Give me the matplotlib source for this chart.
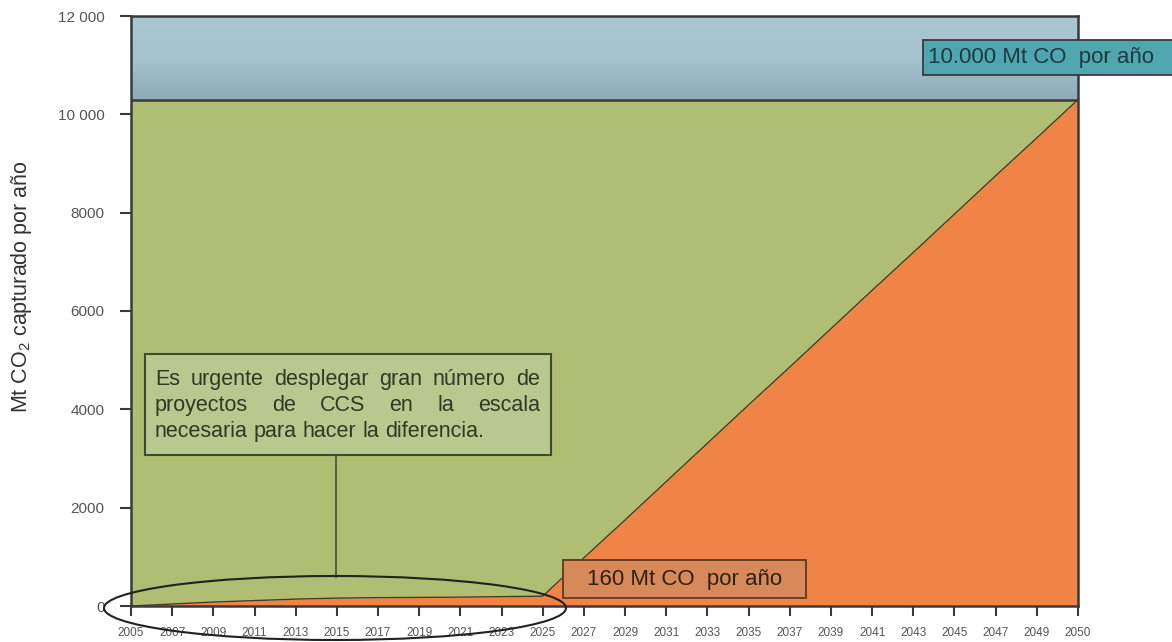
import matplotlib
matplotlib.use("Agg")
import matplotlib.pyplot as plt
import numpy as np
from matplotlib.patches import Rectangle, Ellipse
from matplotlib.colors import LinearSegmentedColormap

# ---- data ----
years = ["2005", "2007", "2009", "2011", "2013", "2015", "2017", "2019", "2021",
         "2023", "2025", "2027", "2029", "2031", "2033", "2035", "2037", "2039",
         "2041", "2043", "2045", "2047", "2049", "2050"]
captured = [0, 40, 80, 110, 140, 160, 170, 175, 180, 190, 200,
            980, 1750, 2530, 3310, 4090, 4860, 5640, 6420, 7190, 7970, 8750, 9520,
            10300]
target = 10300
y_max = 12000
y_ticks = [0, 2000, 4000, 6000, 8000, 10000, 12000]
y_ticklabels = ["0", "2000", "4000", "6000", "8000", "10 000", "12 000"]
label_target = "10.000 Mt CO  por año"
label_current = "160 Mt CO  por año"
note_lines = ["Es urgente desplegar gran número de",
              "proyectos de CCS en la escala",
              "necesaria para hacer la diferencia."]
ylabel = "Mt CO$_2$ capturado por año"

plt.rcParams['font.family'] = ['Liberation Sans', 'DejaVu Sans']
plt.rcParams['mathtext.fontset'] = 'custom'
plt.rcParams['mathtext.rm'] = 'Liberation Sans'

W, H = 1172, 642
fig = plt.figure(figsize=(W / 100, H / 100), dpi=100)
L, R, B, T = 131, 1078, 606, 16
ax = fig.add_axes([L / W, 1 - B / H, (R - L) / W, (B - T) / H])

x = np.arange(len(years))
ax.set_xlim(0, len(years) - 1)
ax.set_ylim(0, y_max)

c_orange = "#f08446"
c_green = "#afbe73"
c_dark = "#3a3a3a"

ax.fill_between(x, 0, captured, color=c_orange, lw=0, zorder=1)
ax.fill_between(x, captured, target, color=c_green, lw=0, zorder=1)
cmap = LinearSegmentedColormap.from_list("b", ["#8fa9b6", "#a6c3cf", "#a9c6d2"])
grad = np.linspace(0, 1, 100).reshape(-1, 1)
ax.imshow(grad, cmap=cmap, extent=[0, len(years) - 1, target, y_max],
          aspect="auto", origin="lower", zorder=1)
ax.plot(x, captured, color="#4a3a20", lw=1.0, zorder=2)
ax.axhline(target, color=c_dark, lw=1.8, zorder=3)

for s in ["left", "bottom", "top", "right"]:
    ax.spines[s].set_color(c_dark)
    ax.spines[s].set_linewidth(1.8)
    ax.spines[s].set_zorder(4)

ax.set_yticks(y_ticks)
ax.set_yticklabels(y_ticklabels)
ax.set_xticks(x)
ax.set_xticklabels(years)
ax.tick_params(axis="y", length=8, width=1.5, color=c_dark, pad=11,
               labelsize=11, labelcolor="#555555")
ax.tick_params(axis="x", length=7, width=1.5, color=c_dark, pad=8,
               labelsize=8.5, labelcolor="#555555")
ax.set_ylabel(ylabel, fontsize=15.5, color="#333333")
ax.yaxis.set_label_coords(-(131 - 34) / (R - L), 0.542)

px = (len(years) - 1) / (R - L)   # data units per pixel in x
py = y_max / (B - T)              # data units per pixel in y

def dx(p):
    return (p - L) * px

def dy(p):
    return (B - p) * py

# teal target label box
ax.add_patch(Rectangle((dx(923), dy(75)), (1185 - 923) * px, (75 - 40) * py,
                       facecolor="#4fa6ae", edgecolor=c_dark, lw=1.3,
                       clip_on=False, zorder=6))
ax.text(dx(928), dy(57.5), label_target, fontsize=16, color="#1f3b3f",
        va="center", ha="left", clip_on=False, zorder=7)

# orange current label box
ax.add_patch(Rectangle((dx(563), dy(598)), (806 - 563) * px, (598 - 560) * py,
                       facecolor="#d8895c", edgecolor="#5a3a25", lw=1.3,
                       clip_on=False, zorder=6))
ax.text(dx(587), dy(579), label_current, fontsize=16, color="#2e2010",
        va="center", ha="left", zorder=7)

# note box
ax.add_patch(Rectangle((dx(145), dy(455)), (551 - 145) * px, (455 - 354) * py,
                       facecolor="#b8c990", edgecolor="#3d4a30", lw=1.5, zorder=6))
ax.plot([dx(336), dx(336)], [dy(455), dy(577)], color="#4a4a3a", lw=1.2, zorder=6)

# ellipse
ax.add_patch(Ellipse((dx(335), dy(608)), 462 * px, 64 * py, fill=False,
                     edgecolor="#222222", lw=1.5, clip_on=False, zorder=8))

# justified note text
fig.canvas.draw()
renderer = fig.canvas.get_renderer()
left_px, right_px = 155, 540
baselines = [385, 411, 437]
fs = 15.5
for i, line in enumerate(note_lines):
    words = line.split(" ")
    ts = [ax.text(0, 0, w, fontsize=fs, color="#2e3a25", va="baseline",
                  ha="left", zorder=7) for w in words]
    widths = [t.get_window_extent(renderer).width for t in ts]
    if i < len(note_lines) - 1 and len(words) > 1:
        gap = (right_px - left_px - sum(widths)) / (len(words) - 1)
    else:
        gap = renderer.points_to_pixels(fs) * 0.28
    cur = left_px
    for t, w in zip(ts, widths):
        t.set_position((dx(cur), dy(baselines[i])))
        cur += w + gap

fig.savefig("out.png", dpi=100)
